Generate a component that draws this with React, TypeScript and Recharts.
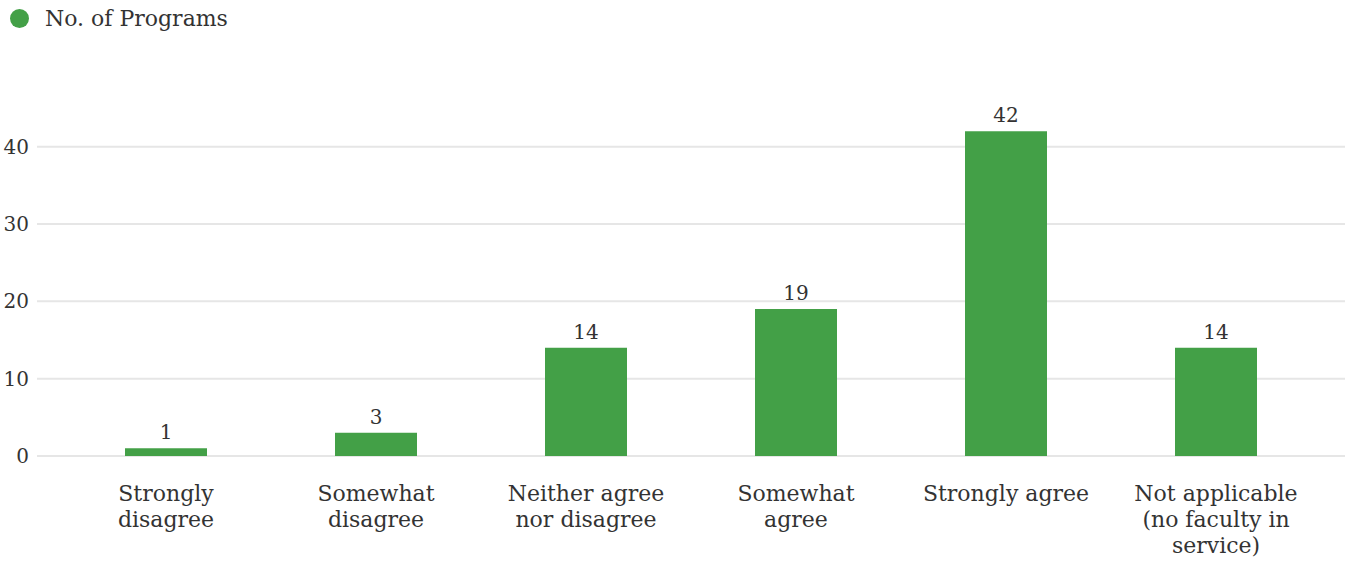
import { BarChart, Bar, XAxis, YAxis, CartesianGrid, LabelList, Legend } from 'recharts'

const categories = [
  ['Strongly', 'disagree'],
  ['Somewhat', 'disagree'],
  ['Neither agree', 'nor disagree'],
  ['Somewhat', 'agree'],
  ['Strongly agree'],
  ['Not applicable', '(no faculty in', 'service)'],
]
const programs = [1, 3, 14, 19, 42, 14]
const yTicks = [0, 10, 20, 30, 40]

const FONT = '"DejaVu Serif", serif'
const GREEN = '#43a047'
const TEXT = '#333333'

const data = categories.map((lines, i) => ({ name: lines.join(' '), lines, value: programs[i] }))

function CategoryTick(props: any) {
  const { x, y, index } = props
  const lines: string[] = categories[index] || []
  return (
    <text x={x} y={y} textAnchor="middle" fill={TEXT} fontFamily={FONT} fontSize={22}>
      {lines.map((l, i) => (
        <tspan key={i} x={x} dy={i === 0 ? 37 : 26}>{l}</tspan>
      ))}
    </text>
  )
}

function LegendContent() {
  return (
    <div style={{ display: 'flex', alignItems: 'center', fontFamily: FONT, fontSize: 22, color: TEXT, height: 26 }}>
      <span style={{ width: 19, height: 19, borderRadius: '50%', background: GREEN, display: 'inline-block', marginLeft: 10, marginRight: 16 }} />
      No. of Programs
    </div>
  )
}

export default function App() {
  return (
    <div style={{ width: 1351, height: 561, background: '#fff' }}>
      <style>{'body{margin:0}'}</style>
      <BarChart width={1351} height={561} data={data} margin={{ top: 82, right: 6, bottom: 0, left: 0 }}>
        <Legend
          verticalAlign="top"
          align="left"
          content={<LegendContent />}
          wrapperStyle={{ top: 5, left: 0, height: 26 }}
        />
        <CartesianGrid vertical={false} stroke="#e6e6e6" strokeWidth={2} horizontalValues={yTicks} />
        <XAxis
          dataKey="name"
          axisLine={false}
          tickLine={false}
          interval={0}
          height={105}
          padding={{ left: 24, right: 24 }}
          tick={<CategoryTick />}
        />
        <YAxis
          width={37}
          domain={[0, 45]}
          ticks={yTicks}
          axisLine={false}
          tickLine={false}
          tick={{ fill: TEXT, fontSize: 20, fontFamily: FONT }}
        />
        <Bar dataKey="value" fill={GREEN} barSize={82} isAnimationActive={false}>
          <LabelList dataKey="value" position="top" offset={9} fill={TEXT} fontSize={20} fontFamily={FONT} />
        </Bar>
      </BarChart>
    </div>
  )
}
